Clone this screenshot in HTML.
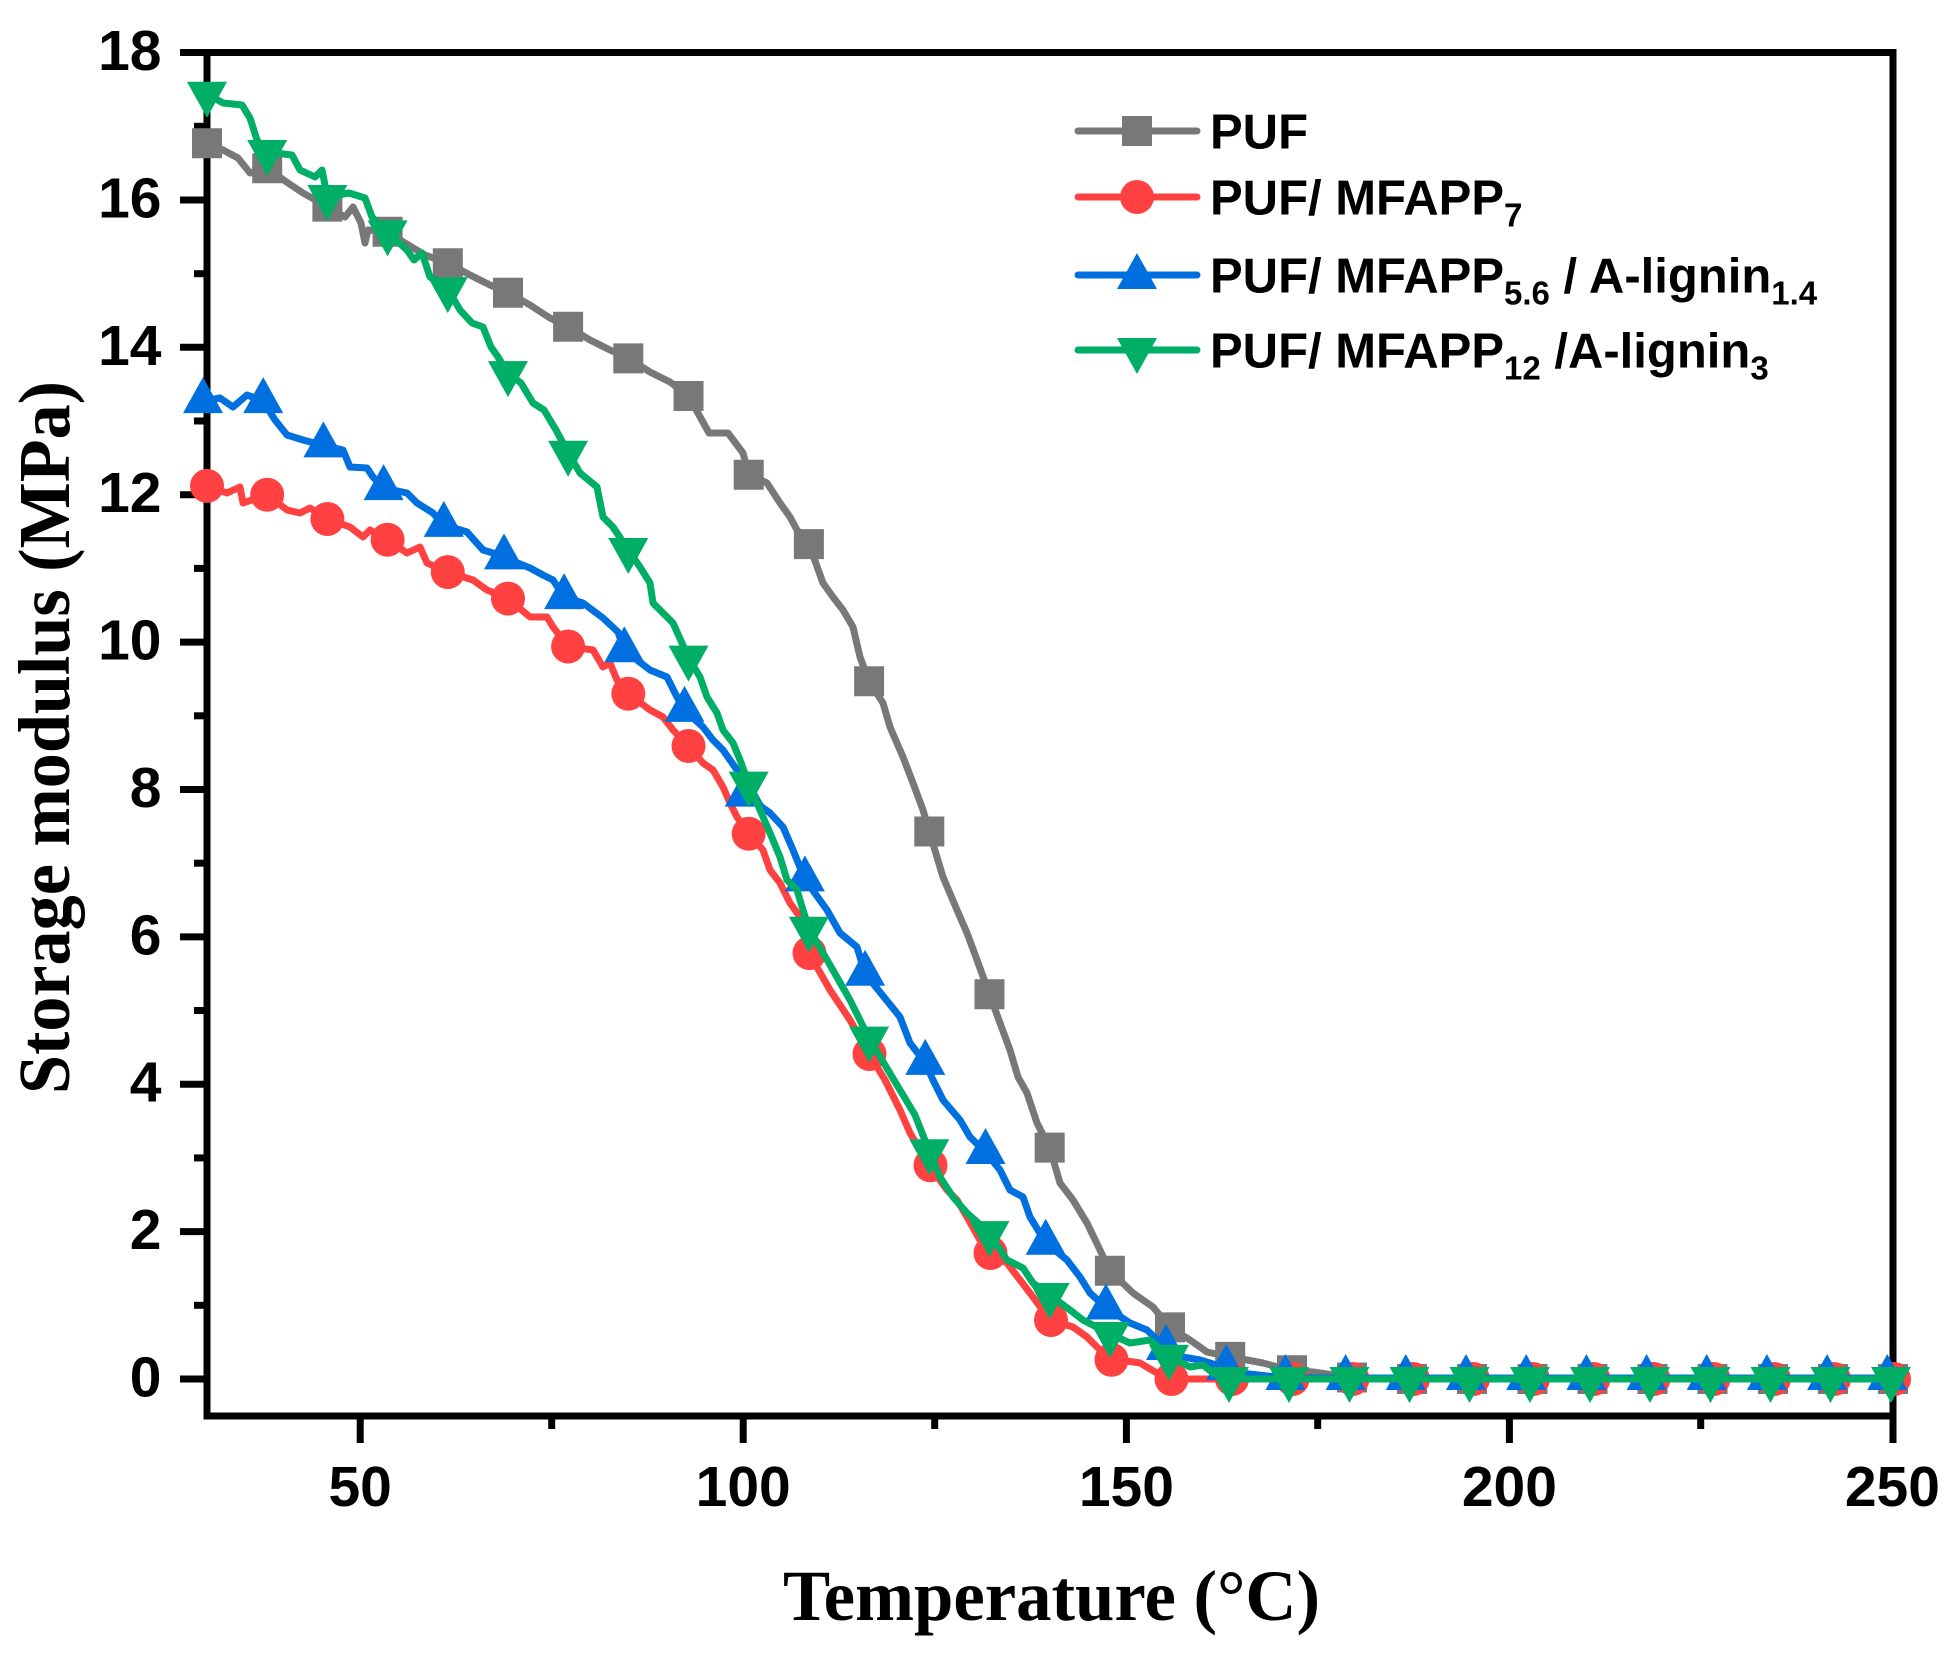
<!DOCTYPE html>
<html>
<head>
<meta charset="utf-8">
<style>
html,body{margin:0;padding:0;background:#fff;}
svg{display:block;}
text{white-space:pre;}
</style>
</head>
<body>
<svg xmlns="http://www.w3.org/2000/svg" width="1960" height="1655" viewBox="0 0 1960 1655">
<defs>
<path id="sq" d="M-15,-15h30v30h-30z"/>
<circle id="ci" cx="0" cy="0" r="17"/>
<path id="tu" d="M0,-24L20,12L-20,12Z"/>
<path id="td" d="M0,24L20,-12L-20,-12Z"/>
</defs>
<rect x="0" y="0" width="1960" height="1655" fill="#fff"/>

<!-- frame -->
<rect x="207" y="52.5" width="1686" height="1363.5" fill="none" stroke="#000" stroke-width="7"/>
<!-- y major ticks -->
<g stroke="#000" stroke-width="7">
<line x1="180" y1="1379" x2="207" y2="1379"/>
<line x1="180" y1="1231.6" x2="207" y2="1231.6"/>
<line x1="180" y1="1084.2" x2="207" y2="1084.2"/>
<line x1="180" y1="936.9" x2="207" y2="936.9"/>
<line x1="180" y1="789.5" x2="207" y2="789.5"/>
<line x1="180" y1="642.1" x2="207" y2="642.1"/>
<line x1="180" y1="494.7" x2="207" y2="494.7"/>
<line x1="180" y1="347.3" x2="207" y2="347.3"/>
<line x1="180" y1="200" x2="207" y2="200"/>
<line x1="180" y1="52.5" x2="207" y2="52.5"/>
<!-- y minor -->
<line x1="194" y1="1305.3" x2="207" y2="1305.3"/>
<line x1="194" y1="1157.9" x2="207" y2="1157.9"/>
<line x1="194" y1="1010.5" x2="207" y2="1010.5"/>
<line x1="194" y1="863.2" x2="207" y2="863.2"/>
<line x1="194" y1="715.8" x2="207" y2="715.8"/>
<line x1="194" y1="568.4" x2="207" y2="568.4"/>
<line x1="194" y1="421" x2="207" y2="421"/>
<line x1="194" y1="273.7" x2="207" y2="273.7"/>
<line x1="194" y1="126.3" x2="207" y2="126.3"/>
<!-- x major -->
<line x1="360.2" y1="1416" x2="360.2" y2="1443"/>
<line x1="743.2" y1="1416" x2="743.2" y2="1443"/>
<line x1="1126.4" y1="1416" x2="1126.4" y2="1443"/>
<line x1="1509.4" y1="1416" x2="1509.4" y2="1443"/>
<line x1="1893" y1="1416" x2="1893" y2="1443"/>
<!-- x minor -->
<line x1="551.7" y1="1416" x2="551.7" y2="1429"/>
<line x1="934.7" y1="1416" x2="934.7" y2="1429"/>
<line x1="1317.7" y1="1416" x2="1317.7" y2="1429"/>
<line x1="1700.7" y1="1416" x2="1700.7" y2="1429"/>
</g>

<!-- tick labels -->
<g font-family="'Liberation Sans', Arial, sans-serif" font-weight="bold" font-size="57" fill="#000">
<g text-anchor="end">
<text x="161.5" y="1396.5">0</text>
<text x="161.5" y="1249.1">2</text>
<text x="161.5" y="1101.7">4</text>
<text x="161.5" y="954.4">6</text>
<text x="161.5" y="807">8</text>
<text x="161.5" y="659.6">10</text>
<text x="161.5" y="512.2">12</text>
<text x="161.5" y="364.8">14</text>
<text x="161.5" y="217.5">16</text>
<text x="161.5" y="70">18</text>
</g>
<g text-anchor="middle">
<text x="360.2" y="1506">50</text>
<text x="743.2" y="1506">100</text>
<text x="1126.4" y="1506">150</text>
<text x="1509.4" y="1506">200</text>
<text x="1892.4" y="1506">250</text>
</g>
</g>

<!-- axis titles -->
<text x="1051.5" y="1620" font-family="'Liberation Serif', 'Times New Roman', serif" font-weight="bold" font-size="72" text-anchor="middle" textLength="537" lengthAdjust="spacingAndGlyphs">Temperature (°C)</text>
<text transform="translate(69,737.5) rotate(-90)" x="0" y="0" font-family="'Liberation Serif', 'Times New Roman', serif" font-weight="bold" font-size="73" text-anchor="middle" textLength="713" lengthAdjust="spacingAndGlyphs">Storage modulus (MPa)</text>

<!-- PUF gray -->
<g fill="#787878">
<polyline fill="none" stroke="#787878" stroke-width="7" stroke-linejoin="round" stroke-linecap="round" points="207,143.2 223,150 238,158 250,173 267.2,168.3 288,183 303,193 327.4,206.6 345,217 353,207 361,223 365,243 368,230 387.6,231.7 405,243 425,255 447.8,263.3 470,275 490,285 508,292.8 530,305 550,318 568.1,326.7 590,340 610,350 628.3,358.4 650,372 670,382 688.5,396 709,433 728,433 743,453 748.7,474.8 767,483 780,503 790,517 797,530 808.9,544.1 823,583 833,597 843,610 853,627 860,657 869.1,681.2 883,703 890,727 903,757 913,783 923,810 929.3,831.5 943,877 957,910 967,933 977,960 989.5,994.3 1000,1023 1010,1050 1018,1077 1027,1093 1037,1123 1049.7,1147.6 1060,1183 1073,1200 1087,1223 1100,1250 1109.9,1270.7 1133,1293 1153,1307 1170,1327.4 1190,1340 1207,1352 1230.2,1356.9 1247,1360 1263,1363 1290.4,1370.2 1313,1372 1350.6,1377.5 1410.8,1379 1892.3,1379"/>
<use href="#sq" x="207" y="143.2"/>
<use href="#sq" x="267.2" y="168.3"/>
<use href="#sq" x="327.4" y="206.6"/>
<use href="#sq" x="387.6" y="231.7"/>
<use href="#sq" x="447.8" y="263.3"/>
<use href="#sq" x="508" y="292.8"/>
<use href="#sq" x="568.1" y="326.7"/>
<use href="#sq" x="628.3" y="358.4"/>
<use href="#sq" x="688.5" y="396"/>
<use href="#sq" x="748.7" y="474.8"/>
<use href="#sq" x="808.9" y="544.1"/>
<use href="#sq" x="869.1" y="681.2"/>
<use href="#sq" x="929.3" y="831.5"/>
<use href="#sq" x="989.5" y="994.3"/>
<use href="#sq" x="1049.7" y="1147.6"/>
<use href="#sq" x="1109.9" y="1270.7"/>
<use href="#sq" x="1170" y="1327.4"/>
<use href="#sq" x="1230.2" y="1356.9"/>
<use href="#sq" x="1292" y="1370.2"/>
<use href="#sq" x="1352" y="1377.5"/>
<use href="#sq" x="1412" y="1379"/>
<use href="#sq" x="1472" y="1379"/>
<use href="#sq" x="1532.5" y="1379"/>
<use href="#sq" x="1592.5" y="1379"/>
<use href="#sq" x="1652.5" y="1379"/>
<use href="#sq" x="1712.5" y="1379"/>
<use href="#sq" x="1773" y="1379"/>
<use href="#sq" x="1833" y="1379"/>
<use href="#sq" x="1893" y="1379"/>
</g>

<!-- PUF/MFAPP7 red -->
<g fill="#FF4141">
<polyline fill="none" stroke="#FF4141" stroke-width="7" stroke-linejoin="round" stroke-linecap="round" points="207,485.9 227,493 240,487 243,503 267.2,494.7 287,510 300,513 310,508 327.4,519 350,527 363,537 370,530 387.6,539.7 407,553 420,547 427,563 447.8,572.1 473,580 487,590 508,598.6 530,617 547,617 553,627 568.1,646.5 593,650 603,667 610,663 617,680 628.3,693.7 650,710 663,717 673,730 688.5,746 703,763 713,770 723,787 730,803 737,817 748.7,833.7 763,850 770,870 780,883 790,903 800,917 808.9,953.1 830,990 850,1020 869.1,1054 885,1080 900,1110 910,1133 929.3,1165.3 947,1190 957,1200 967,1217 980,1240 989.5,1253 1007,1263 1020,1280 1033,1297 1049.7,1320 1073,1327 1087,1337 1109.9,1359.8 1120,1360 1140,1363 1157,1373 1170,1379 1892.3,1379"/>
<use href="#ci" x="207" y="485.9"/>
<use href="#ci" x="267.2" y="494.7"/>
<use href="#ci" x="327.4" y="519"/>
<use href="#ci" x="387.6" y="539.7"/>
<use href="#ci" x="447.8" y="572.1"/>
<use href="#ci" x="508" y="598.6"/>
<use href="#ci" x="568.1" y="646.5"/>
<use href="#ci" x="628.3" y="693.7"/>
<use href="#ci" x="688.5" y="746"/>
<use href="#ci" x="748.7" y="833.7"/>
<use href="#ci" x="809.5" y="953.1"/>
<use href="#ci" x="869.5" y="1054"/>
<use href="#ci" x="930.5" y="1165.3"/>
<use href="#ci" x="990.5" y="1253"/>
<use href="#ci" x="1051" y="1320"/>
<use href="#ci" x="1111.5" y="1359.8"/>
<use href="#ci" x="1171.5" y="1379"/>
<use href="#ci" x="1232" y="1379"/>
<use href="#ci" x="1292.5" y="1379"/>
<use href="#ci" x="1352.5" y="1379"/>
<use href="#ci" x="1413" y="1379"/>
<use href="#ci" x="1473" y="1379"/>
<use href="#ci" x="1533" y="1379"/>
<use href="#ci" x="1593.5" y="1379"/>
<use href="#ci" x="1653.5" y="1379"/>
<use href="#ci" x="1713.5" y="1379"/>
<use href="#ci" x="1774" y="1379"/>
<use href="#ci" x="1834" y="1379"/>
<use href="#ci" x="1894" y="1379"/>
</g>

<!-- blue -->
<g fill="#0070E0">
<polyline fill="none" stroke="#0070E0" stroke-width="7" stroke-linejoin="round" stroke-linecap="round" points="203,401.1 220,398 233,407 247,395 263.2,401.1 275,420 287,435 303,440 323.4,445.4 343,450 350,467 367,468 373,477 383.6,488.1 407,493 417,503 433,513 443.8,524.9 467,532 483,550 493,553 504,557.4 530,568 543,575 553,580 564.1,597.1 583,603 603,618 618,632 624.3,650.2 650,670 667,677 677,697 684.5,709.9 703,727 713,740 723,750 737,770 744.7,794.6 770,813 783,827 793,850 804.9,879.4 827,910 840,933 857,947 865.1,973.7 900,1017 910,1043 925.3,1062.9 933,1080 943,1100 960,1120 970,1137 985.5,1152 1000,1170 1010,1190 1023,1197 1030,1217 1045.7,1242.7 1067,1260 1080,1277 1090,1293 1105.9,1307.5 1130,1323 1147,1330 1166,1348 1183,1357 1200,1360 1226.2,1368 1240,1373 1286.4,1378 1892.3,1378"/>
<use href="#tu" x="203" y="401.1"/>
<use href="#tu" x="263.2" y="401.1"/>
<use href="#tu" x="323.4" y="445.4"/>
<use href="#tu" x="383.6" y="488.1"/>
<use href="#tu" x="443.8" y="524.9"/>
<use href="#tu" x="504" y="557.4"/>
<use href="#tu" x="564.1" y="597.1"/>
<use href="#tu" x="624.3" y="650.2"/>
<use href="#tu" x="684.5" y="709.9"/>
<use href="#tu" x="744.7" y="794.6"/>
<use href="#tu" x="804.9" y="879.4"/>
<use href="#tu" x="865.1" y="973.7"/>
<use href="#tu" x="925.3" y="1062.9"/>
<use href="#tu" x="985.5" y="1152"/>
<use href="#tu" x="1045.7" y="1242.7"/>
<use href="#tu" x="1105.9" y="1307.5"/>
<use href="#tu" x="1166" y="1348"/>
<use href="#tu" x="1226.2" y="1368"/>
<use href="#tu" x="1285.4" y="1378"/>
<use href="#tu" x="1345.6" y="1378"/>
<use href="#tu" x="1405.8" y="1378"/>
<use href="#tu" x="1466" y="1378"/>
<use href="#tu" x="1526.2" y="1378"/>
<use href="#tu" x="1586.4" y="1378"/>
<use href="#tu" x="1646.6" y="1378"/>
<use href="#tu" x="1706.7" y="1378"/>
<use href="#tu" x="1766.9" y="1378"/>
<use href="#tu" x="1827.1" y="1378"/>
<use href="#tu" x="1887.3" y="1378"/>
</g>

<!-- green -->
<g fill="#00AE66">
<polyline fill="none" stroke="#00AE66" stroke-width="7" stroke-linejoin="round" stroke-linecap="round" points="207,93.8 223,103 242,105 250,118 257,140 267.2,152 292,155 300,170 315,177 322,170 327.4,197 349,193 365,198 372,217 387.6,232.4 407,250 414,260 422,253 430,277 447.8,289.1 460,310 472,323 483,327 491,347 498,357 508,373.1 521,383 533,403 544,410 556,430 568.1,452.7 580,473 597,487 603,517 613,527 628.3,550 640,567 650,583 653,603 667,617 673,623 688.5,657.6 700,677 707,697 717,713 723,730 733,743 740,760 748.7,783.6 760,810 770,833 780,857 787,880 797,890 803,910 808.9,928.8 830,965 850,1000 869.1,1038.6 885,1065 900,1090 915,1115 929.3,1151.3 940,1177 953,1197 967,1213 989.5,1233.1 1007,1260 1023,1268 1033,1283 1049.7,1295 1070,1310 1083,1320 1109.9,1334 1130,1343 1150,1340 1170,1356.9 1190,1367 1203,1365 1213,1373 1230.2,1379 1892.3,1379"/>
<use href="#td" x="207" y="93.8"/>
<use href="#td" x="267.2" y="152"/>
<use href="#td" x="327.4" y="197"/>
<use href="#td" x="387.6" y="232.4"/>
<use href="#td" x="447.8" y="289.1"/>
<use href="#td" x="508" y="373.1"/>
<use href="#td" x="568.1" y="452.7"/>
<use href="#td" x="628.3" y="550"/>
<use href="#td" x="688.5" y="657.6"/>
<use href="#td" x="748.7" y="783.6"/>
<use href="#td" x="808.9" y="928.8"/>
<use href="#td" x="869.1" y="1038.6"/>
<use href="#td" x="929.3" y="1151.3"/>
<use href="#td" x="989.5" y="1233.1"/>
<use href="#td" x="1049.7" y="1295"/>
<use href="#td" x="1109.9" y="1334"/>
<use href="#td" x="1169" y="1356.9"/>
<use href="#td" x="1229" y="1379"/>
<use href="#td" x="1289" y="1379"/>
<use href="#td" x="1349.5" y="1379"/>
<use href="#td" x="1409.5" y="1379"/>
<use href="#td" x="1469.5" y="1379"/>
<use href="#td" x="1530" y="1379"/>
<use href="#td" x="1590" y="1379"/>
<use href="#td" x="1650" y="1379"/>
<use href="#td" x="1710.5" y="1379"/>
<use href="#td" x="1770.5" y="1379"/>
<use href="#td" x="1830.5" y="1379"/>
<use href="#td" x="1891" y="1379"/>
</g>

<!-- legend -->
<g stroke-width="7" stroke-linecap="round">
<line x1="1078" y1="131" x2="1197" y2="131" stroke="#787878"/>
<line x1="1078" y1="197" x2="1197" y2="197" stroke="#FF4141"/>
<line x1="1078" y1="275" x2="1197" y2="275" stroke="#0070E0"/>
<line x1="1078" y1="350" x2="1197" y2="350" stroke="#00AE66"/>
</g>
<use href="#sq" x="1137" y="131" fill="#787878"/>
<use href="#ci" x="1137" y="197" fill="#FF4141"/>
<use href="#tu" x="1137" y="277" fill="#0070E0"/>
<use href="#td" x="1137" y="350" fill="#00AE66"/>
<g font-family="'Liberation Sans', Arial, sans-serif" font-weight="bold" font-size="49" fill="#000">
<text x="1210" y="148.5">PUF</text>
<text x="1210" y="214.5">PUF/ MFAPP<tspan font-size="33" dy="12">7</tspan></text>
<text x="1210" y="292.5">PUF/ MFAPP<tspan font-size="33" dy="12">5.6</tspan><tspan dy="-12"> / A-lignin</tspan><tspan font-size="33" dy="12">1.4</tspan></text>
<text x="1210" y="367.5">PUF/ MFAPP<tspan font-size="33" dy="12">12</tspan><tspan dy="-12"> /A-lignin</tspan><tspan font-size="33" dy="12">3</tspan></text>
</g>
</svg>
</body>
</html>
